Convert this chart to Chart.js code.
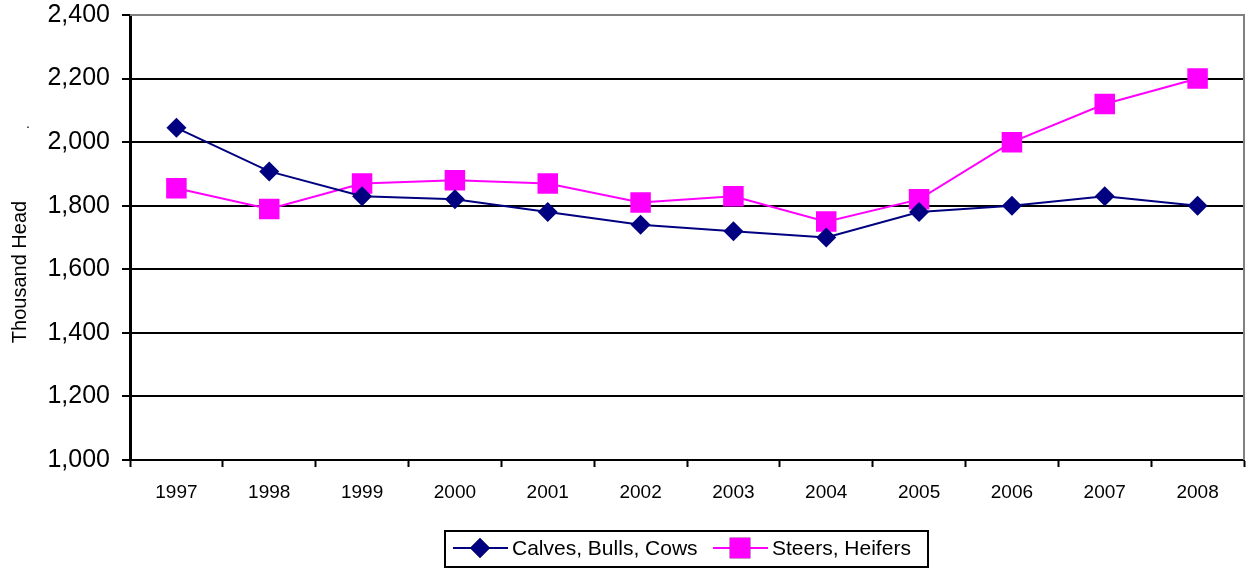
<!DOCTYPE html>
<html>
<head>
<meta charset="utf-8">
<script src="https://cdn.jsdelivr.net/npm/chart.js@4/dist/chart.umd.min.js"></script>
<style>
html, body { margin: 0; padding: 0; background: #fff; }
#wrap { width: 1250px; height: 569px; position: relative; }
</style>
</head>
<body>
<div id="wrap"><canvas id="myChart" width="1250" height="569"></canvas></div>
<script>
// data
var years = ['1997', '1998', '1999', '2000', '2001', '2002', '2003', '2004', '2005', '2006', '2007', '2008'];
var calves = [2045, 1908, 1830, 1820, 1780, 1740, 1720, 1700, 1780, 1800, 1830, 1800];
var steers = [1855, 1790, 1870, 1880, 1870, 1810, 1830, 1750, 1820, 2000, 2120, 2200];
var seriesNames = ['Calves, Bulls, Cows', 'Steers, Heifers'];
var yTitle = 'Thousand Head';
var yMin = 1000, yMax = 2400, yStep = 200;

var FONT = 'Arial, "Liberation Sans", sans-serif';

// border on top/right, legend box, axis title, stray dot
var extras = {
    id: 'extras',
    beforeDatasetsDraw: function (chart) {
        var a = chart.chartArea, ctx = chart.ctx;
        ctx.save();
        ctx.strokeStyle = '#808080';
        ctx.lineWidth = 2;
        ctx.beginPath();
        ctx.moveTo(a.left, a.top);
        ctx.lineTo(a.right, a.top);
        ctx.lineTo(a.right, a.bottom);
        ctx.stroke();
        ctx.restore();
    },
    afterDraw: function (chart) {
        var ctx = chart.ctx;
        ctx.save();
        // legend
        ctx.strokeStyle = '#000';
        ctx.lineWidth = 2;
        ctx.strokeRect(445, 531, 483, 36);
        ctx.font = '21px ' + FONT;
        ctx.textBaseline = 'middle';
        ctx.fillStyle = '#000';
        var items = [{x: 453, tx: 512}, {x: 713, tx: 772}];
        chart.data.datasets.forEach(function (ds, i) {
            var it = items[i], cy = 548;
            ctx.strokeStyle = ds.borderColor;
            ctx.lineWidth = 2;
            ctx.beginPath();
            ctx.moveTo(it.x, cy);
            ctx.lineTo(it.x + 55, cy);
            ctx.stroke();
            Chart.helpers.drawPoint(ctx, {
                pointStyle: ds.pointStyle, radius: ds.pointRadius, borderWidth: 0
            }, it.x + 27, cy);
            ctx.fillStyle = ds.pointBackgroundColor;
            ctx.fill();
            ctx.fillStyle = '#000';
            ctx.fillText(ds.label, it.tx, cy + 1);
        });
        // y axis title
        ctx.save();
        ctx.translate(20, 272);
        ctx.rotate(-Math.PI / 2);
        ctx.textAlign = 'center';
        ctx.font = '20px ' + FONT;
        ctx.fillText(yTitle, 0, 0);
        ctx.restore();
        ctx.font = '14px ' + FONT;
        ctx.fillText('.', 26, 124);
        ctx.restore();
    }
};

var ctx = document.getElementById('myChart').getContext('2d');
var chart = new Chart(ctx, {
    type: 'line',
    data: {
        labels: years,
        datasets: [{
            label: seriesNames[0],
            data: calves,
            borderColor: '#000080',
            backgroundColor: '#000080',
            pointBackgroundColor: '#000080',
            pointBorderColor: '#000080',
            borderWidth: 2,
            pointStyle: 'rectRot',
            pointRadius: 10,
            pointBorderWidth: 0,
            tension: 0
        }, {
            label: seriesNames[1],
            data: steers,
            borderColor: '#ff00ff',
            backgroundColor: '#ff00ff',
            pointBackgroundColor: '#ff00ff',
            pointBorderColor: '#ff00ff',
            borderWidth: 2,
            pointStyle: 'rect',
            pointRadius: 14.5,
            pointBorderWidth: 0,
            tension: 0
        }]
    },
    options: {
        responsive: false,
        animation: false,
        layout: { autoPadding: false, padding: { left: 0, right: 6, top: 15, bottom: 0 } },
        plugins: {
            legend: { display: false },
            tooltip: { enabled: false }
        },
        scales: {
            x: {
                offset: true,
                grid: {
                    offset: true,
                    drawOnChartArea: false,
                    drawTicks: true,
                    tickLength: 7,
                    tickWidth: 2,
                    tickColor: '#000'
                },
                border: { color: '#000', width: 2 },
                ticks: {
                    color: '#000',
                    font: { family: FONT, size: 19 },
                    padding: 14,
                    maxRotation: 0
                },
                afterFit: function (scale) {
                    scale.height = 109;
                    scale.paddingLeft = 0;
                    scale.paddingRight = 0;
                }
            },
            y: {
                min: yMin,
                max: yMax,
                ticks: {
                    stepSize: yStep,
                    color: '#000',
                    font: { family: FONT, size: 25 },
                    padding: 12,
                    callback: function (v) { return v.toLocaleString('en-US'); }
                },
                grid: {
                    color: function (c) { return c.tick && c.tick.value === yMax ? '#808080' : '#000'; },
                    lineWidth: 2,
                    tickLength: 8,
                    tickColor: '#000',
                    tickWidth: 2
                },
                border: { color: '#000', width: 3 },
                afterFit: function (scale) {
                    scale.width = 130;
                    scale.paddingTop = 0;
                    scale.paddingBottom = 0;
                }
            }
        }
    },
    plugins: [extras]
});
</script>
</body>
</html>
